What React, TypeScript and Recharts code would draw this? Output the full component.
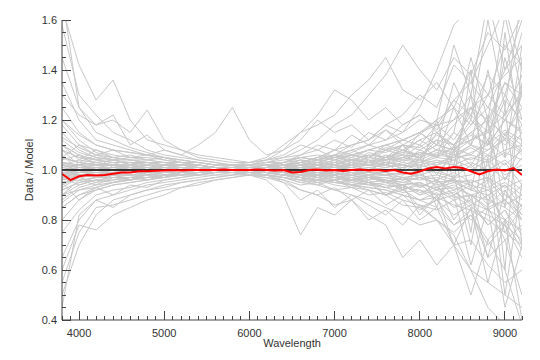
import { LineChart, Line, XAxis, YAxis, ReferenceLine } from 'recharts';

// wavelength grid of the mean ratio (every 100 A)
const redWave = [
  3800, 3900, 4000, 4100, 4200, 4300, 4400, 4500, 4600, 4700, 4800, 4900, 5000, 5100,
  5200, 5300, 5400, 5500, 5600, 5700, 5800, 5900, 6000, 6100, 6200, 6300, 6400, 6500,
  6600, 6700, 6800, 6900, 7000, 7100, 7200, 7300, 7400, 7500, 7600, 7700, 7800, 7900,
  8000, 8100, 8200, 8300, 8400, 8500, 8600, 8700, 8800, 8900, 9000, 9100, 9200,
];
const redRatio = [
  0.985, 0.96, 0.975, 0.98, 0.978, 0.98, 0.985, 0.99, 0.99, 0.995, 0.995, 0.997, 0.998, 1.0,
  0.998, 1.0, 1.0, 1.0, 1.0, 1.002, 1.0, 1.0, 1.0, 1.002, 1.0, 0.998, 1.0, 0.99,
  0.992, 1.0, 1.002, 0.998, 1.0, 0.996, 1.0, 1.002, 0.998, 1.0, 0.996, 1.0, 0.99, 0.985,
  0.994, 1.006, 1.012, 1.006, 1.012, 1.008, 0.995, 0.982, 0.995, 1.002, 0.998, 1.008, 0.98,
];

// individual spectra ratios (every 200 A)
const grayWave = [
  3800, 4000, 4200, 4400, 4600, 4800, 5000, 5200, 5400, 5600, 5800, 6000, 6200, 6400,
  6600, 6800, 7000, 7200, 7400, 7600, 7800, 8000, 8200, 8400, 8600, 8800, 9000, 9200,
];
const g01 = [1.05, 1.03, 1.02, 1.02, 1.01, 1.01, 1.01, 1.0, 1.0, 1.0, 1.0, 1.0, 1.0, 1.01, 1.01, 1.02, 1.01, 1.02, 1.02, 1.03, 1.02, 1.04, 1.03, 1.05, 1.06, 1.04, 1.08, 1.1];
const g02 = [0.92, 0.95, 0.97, 0.97, 0.98, 0.98, 0.99, 0.99, 1.0, 1.0, 1.0, 1.0, 0.99, 0.99, 0.98, 0.98, 0.99, 0.98, 0.97, 0.97, 0.96, 0.97, 0.95, 0.96, 0.94, 0.92, 0.95, 0.9];
const g03 = [1.1, 1.06, 1.04, 1.03, 1.03, 1.02, 1.02, 1.01, 1.01, 1.0, 1.0, 1.01, 1.01, 1.02, 1.03, 1.02, 1.03, 1.04, 1.03, 1.05, 1.06, 1.05, 1.08, 1.07, 1.12, 1.15, 1.1, 1.18];
const g04 = [0.88, 0.93, 0.95, 0.96, 0.97, 0.97, 0.98, 0.98, 0.99, 0.99, 1.0, 0.99, 0.99, 0.98, 0.97, 0.98, 0.97, 0.96, 0.97, 0.95, 0.94, 0.95, 0.92, 0.93, 0.9, 0.88, 0.85, 0.8];
const g05 = [1.0, 0.99, 1.01, 1.0, 1.01, 1.0, 1.0, 1.0, 1.0, 1.0, 1.0, 1.0, 1.0, 1.0, 1.0, 1.01, 1.0, 1.0, 1.01, 1.0, 1.01, 1.02, 1.0, 1.01, 1.03, 1.0, 1.04, 0.98];
const g06 = [1.15, 1.08, 1.05, 1.04, 1.03, 1.03, 1.02, 1.02, 1.01, 1.01, 1.0, 1.0, 1.01, 1.01, 1.01, 1.0, 1.02, 1.01, 1.02, 1.02, 1.04, 1.03, 1.02, 1.06, 1.04, 1.08, 1.12, 1.06];
const g07 = [0.85, 0.9, 0.93, 0.95, 0.96, 0.97, 0.97, 0.98, 0.99, 0.99, 0.99, 1.0, 1.0, 1.0, 0.99, 0.99, 0.98, 0.99, 0.98, 0.98, 0.97, 0.96, 0.97, 0.95, 0.96, 0.93, 0.97, 0.92];
const g08 = [1.03, 1.02, 1.0, 1.01, 1.0, 1.01, 1.0, 1.0, 1.0, 1.0, 1.0, 1.0, 1.0, 0.99, 1.0, 0.99, 0.99, 1.0, 0.99, 0.98, 0.99, 0.98, 1.0, 0.97, 0.98, 1.02, 0.96, 1.05];
const g09 = [0.95, 0.97, 0.98, 0.99, 0.99, 0.99, 1.0, 1.0, 1.0, 1.0, 1.0, 1.0, 1.0, 1.0, 1.01, 1.01, 1.02, 1.02, 1.03, 1.04, 1.05, 1.07, 1.06, 1.09, 1.12, 1.16, 1.22, 1.3];
const g10 = [1.2, 1.12, 1.07, 1.05, 1.04, 1.04, 1.03, 1.02, 1.02, 1.01, 1.01, 1.01, 1.01, 1.01, 1.02, 1.02, 1.01, 1.03, 1.02, 1.03, 1.02, 1.01, 1.03, 1.02, 1.0, 1.04, 0.98, 1.02];
const g11 = [0.8, 0.88, 0.92, 0.94, 0.95, 0.96, 0.97, 0.98, 0.98, 0.99, 0.99, 0.99, 0.99, 0.99, 0.98, 0.97, 0.96, 0.97, 0.95, 0.94, 0.93, 0.92, 0.9, 0.91, 0.87, 0.84, 0.8, 0.76];
const g12 = [1.08, 1.05, 1.03, 1.02, 1.01, 1.02, 1.01, 1.01, 1.0, 1.0, 1.0, 1.0, 0.99, 0.99, 0.99, 0.98, 0.99, 0.98, 0.99, 0.99, 0.98, 1.0, 0.99, 0.97, 1.02, 0.96, 1.03, 0.94];
const g13 = [0.97, 0.99, 1.0, 1.0, 1.0, 1.0, 1.0, 1.0, 1.0, 1.0, 1.0, 1.0, 1.0, 1.01, 1.01, 1.0, 1.0, 1.01, 1.0, 1.01, 1.02, 1.0, 1.02, 1.04, 1.01, 1.06, 1.02, 1.08];
const g14 = [1.12, 1.07, 1.05, 1.04, 1.04, 1.03, 1.02, 1.02, 1.01, 1.01, 1.01, 1.0, 1.0, 1.0, 1.0, 1.01, 1.01, 1.0, 1.01, 1.02, 1.01, 1.03, 1.05, 1.04, 1.07, 1.1, 1.16, 1.12];
const g15 = [0.9, 0.94, 0.96, 0.96, 0.97, 0.98, 0.98, 0.99, 0.99, 0.99, 1.0, 1.0, 1.0, 1.0, 1.0, 0.99, 1.0, 0.99, 0.99, 0.98, 0.99, 0.97, 0.98, 0.96, 0.95, 0.97, 0.9, 0.86];
const g16 = [1.25, 1.15, 1.1, 1.08, 1.07, 1.06, 1.05, 1.04, 1.03, 1.02, 1.02, 1.02, 1.03, 1.04, 1.05, 1.04, 1.06, 1.05, 1.08, 1.07, 1.1, 1.08, 1.12, 1.1, 1.15, 1.2, 1.14, 1.25];
const g17 = [0.75, 0.84, 0.9, 0.92, 0.93, 0.95, 0.96, 0.97, 0.98, 0.98, 0.99, 0.98, 0.98, 0.97, 0.95, 0.96, 0.95, 0.94, 0.93, 0.92, 0.9, 0.88, 0.89, 0.86, 0.84, 0.8, 0.75, 0.7];
const g18 = [1.05, 1.1, 1.06, 1.08, 1.05, 1.04, 1.05, 1.03, 1.02, 1.01, 1.01, 1.0, 1.01, 1.0, 1.02, 1.03, 1.02, 1.04, 1.03, 1.06, 1.04, 1.07, 1.05, 1.09, 1.06, 1.12, 1.05, 1.15];
const g19 = [0.95, 0.88, 0.93, 0.9, 0.94, 0.93, 0.96, 0.97, 0.98, 0.99, 0.99, 0.99, 1.0, 0.99, 0.97, 0.98, 0.96, 0.97, 0.95, 0.96, 0.94, 0.95, 0.92, 0.94, 0.9, 0.92, 0.86, 0.9];
const g20 = [1.35, 1.2, 1.12, 1.1, 1.08, 1.06, 1.05, 1.04, 1.03, 1.02, 1.01, 1.01, 1.02, 1.02, 1.03, 1.05, 1.04, 1.06, 1.08, 1.1, 1.12, 1.15, 1.18, 1.2, 1.25, 1.3, 1.38, 1.45];
const g21 = [0.65, 0.8, 0.88, 0.9, 0.92, 0.94, 0.95, 0.96, 0.97, 0.98, 0.98, 0.99, 0.98, 0.98, 0.97, 0.96, 0.97, 0.95, 0.94, 0.93, 0.91, 0.92, 0.88, 0.9, 0.85, 0.82, 0.78, 0.72];
const g22 = [1.1, 1.04, 1.08, 1.05, 1.06, 1.04, 1.03, 1.03, 1.02, 1.01, 1.0, 1.0, 0.99, 0.98, 0.97, 0.99, 0.98, 0.96, 0.97, 0.95, 0.97, 0.93, 0.96, 0.92, 0.95, 0.88, 0.94, 0.85];
const g23 = [0.9, 0.96, 0.94, 0.97, 0.96, 0.98, 0.97, 0.99, 0.99, 1.0, 1.0, 1.01, 1.01, 1.02, 1.04, 1.03, 1.05, 1.04, 1.06, 1.05, 1.08, 1.06, 1.1, 1.08, 1.14, 1.1, 1.2, 1.16];
const g24 = [1.65, 1.42, 1.28, 1.36, 1.2, 1.12, 1.1, 1.08, 1.06, 1.05, 1.04, 1.03, 1.04, 1.05, 1.06, 1.08, 1.05, 1.07, 1.1, 1.08, 1.12, 1.15, 1.1, 1.18, 1.25, 1.2, 1.35, 1.3];
const g25 = [1.3, 1.22, 1.18, 1.2, 1.15, 1.24, 1.12, 1.08, 1.05, 1.04, 1.03, 1.03, 1.04, 1.06, 1.1, 1.08, 1.12, 1.09, 1.15, 1.12, 1.18, 1.22, 1.16, 1.28, 1.35, 1.25, 1.4, 1.5];
const g26 = [1.2, 1.14, 1.1, 1.08, 1.07, 1.06, 1.08, 1.06, 1.1, 1.15, 1.25, 1.12, 1.06, 1.08, 1.12, 1.2, 1.15, 1.18, 1.12, 1.16, 1.1, 1.14, 1.2, 1.25, 1.18, 1.3, 1.22, 1.38];
const g27 = [1.1, 1.06, 1.04, 1.05, 1.04, 1.03, 1.03, 1.02, 1.02, 1.01, 1.01, 1.02, 1.03, 1.05, 1.08, 1.12, 1.18, 1.22, 1.3, 1.38, 1.5, 1.4, 1.32, 1.45, 1.38, 1.55, 1.48, 1.62];
const g28 = [1.05, 1.03, 1.06, 1.04, 1.05, 1.06, 1.04, 1.03, 1.03, 1.02, 1.02, 1.03, 1.05, 1.1, 1.15, 1.18, 1.22, 1.3, 1.36, 1.45, 1.32, 1.28, 1.35, 1.25, 1.4, 1.3, 1.5, 1.42];
const g29 = [0.98, 1.0, 1.01, 1.02, 1.02, 1.03, 1.02, 1.02, 1.02, 1.01, 1.01, 1.02, 1.02, 1.03, 1.05, 1.04, 1.08, 1.1, 1.12, 1.18, 1.15, 1.25, 1.4, 1.58, 1.65, 1.6, 1.7, 1.65];
const g30 = [0.9, 0.92, 0.93, 0.95, 0.96, 0.97, 0.98, 0.99, 0.98, 0.99, 0.99, 0.98, 0.96, 0.9, 0.74, 0.85, 0.82, 0.88, 0.8, 0.84, 0.78, 0.86, 0.8, 0.75, 0.82, 0.7, 0.78, 0.65];
const g31 = [0.85, 0.9, 0.92, 0.94, 0.95, 0.96, 0.97, 0.98, 0.98, 0.99, 0.99, 0.98, 0.97, 0.95, 0.92, 0.9, 0.86, 0.88, 0.82, 0.78, 0.65, 0.72, 0.62, 0.7, 0.6, 0.55, 0.5, 0.45];
const g32 = [0.92, 0.95, 0.96, 0.97, 0.97, 0.98, 0.98, 0.99, 0.99, 1.0, 1.0, 0.99, 0.99, 0.98, 0.97, 0.96, 0.94, 0.93, 0.92, 0.9, 0.86, 0.85, 0.8, 0.74, 0.6, 0.45, 0.38, 0.35];
const g33 = [0.6, 0.78, 0.76, 0.82, 0.85, 0.88, 0.9, 0.93, 0.94, 0.96, 0.97, 0.98, 0.97, 0.96, 0.94, 0.95, 0.92, 0.93, 0.9, 0.91, 0.88, 0.86, 0.84, 0.88, 0.8, 0.85, 0.72, 0.78];
const g34 = [0.45, 0.82, 0.88, 0.85, 0.9, 0.92, 0.93, 0.95, 0.96, 0.97, 0.98, 0.99, 0.99, 0.98, 0.96, 0.94, 0.96, 0.93, 0.95, 0.9, 0.92, 0.88, 0.91, 0.85, 0.88, 0.78, 0.84, 0.7];
const g35 = [1.02, 1.01, 1.0, 1.01, 1.01, 1.0, 1.01, 1.01, 1.0, 1.0, 1.0, 1.01, 1.02, 1.03, 1.05, 1.06, 1.05, 1.08, 1.1, 1.12, 1.15, 1.2, 1.18, 1.28, 1.22, 1.38, 1.3, 1.55];
const g36 = [0.98, 0.99, 0.99, 0.99, 0.99, 0.99, 1.0, 1.0, 1.0, 1.0, 1.0, 0.99, 0.99, 0.98, 0.97, 0.95, 0.96, 0.94, 0.92, 0.9, 0.93, 0.85, 0.88, 0.78, 0.84, 0.65, 0.72, 0.5];
const g37 = [1.0, 1.02, 1.03, 1.02, 1.02, 1.01, 1.02, 1.01, 1.01, 1.0, 1.0, 1.0, 1.01, 1.0, 0.99, 1.01, 0.99, 1.02, 1.0, 1.03, 0.98, 1.05, 0.95, 1.1, 0.92, 1.2, 0.85, 1.35];
const g38 = [1.06, 1.0, 0.97, 0.98, 0.98, 0.99, 0.99, 0.99, 1.0, 1.0, 1.0, 1.0, 1.01, 1.02, 1.04, 1.02, 1.06, 1.03, 1.07, 1.05, 1.1, 1.04, 1.15, 1.08, 1.25, 1.1, 1.45, 1.2];
const g39 = [0.94, 0.97, 0.98, 0.98, 0.98, 0.99, 0.99, 0.99, 0.99, 1.0, 1.0, 1.0, 1.0, 0.99, 0.99, 1.0, 0.98, 0.99, 0.97, 0.98, 0.96, 0.99, 0.93, 0.97, 0.88, 0.95, 0.75, 0.85];
const g40 = [1.18, 1.1, 1.08, 1.06, 1.05, 1.05, 1.04, 1.03, 1.02, 1.01, 1.01, 1.01, 1.02, 1.01, 1.03, 1.05, 1.08, 1.06, 1.05, 1.1, 1.08, 1.12, 1.15, 1.1, 1.2, 1.12, 1.28, 1.2];
const g41 = [1.08, 1.05, 1.04, 1.03, 1.03, 1.02, 1.02, 1.02, 1.01, 1.01, 1.01, 1.02, 1.04, 1.08, 1.15, 1.22, 1.32, 1.28, 1.2, 1.25, 1.18, 1.22, 1.15, 1.2, 1.3, 1.18, 1.35, 1.25];
const g42 = [0.96, 0.98, 0.98, 0.99, 0.99, 0.99, 0.99, 0.99, 1.0, 1.0, 1.0, 0.99, 0.98, 0.95, 0.88, 0.92, 0.85, 0.9, 0.86, 0.82, 0.88, 0.8, 0.85, 0.78, 0.82, 0.72, 0.8, 0.68];
const g43 = [1.08, 1.02, 1.05, 1.01, 1.03, 1.0, 1.02, 1.0, 1.01, 1.0, 1.0, 1.01, 1.0, 1.01, 0.99, 1.02, 1.0, 1.03, 0.99, 1.04, 1.0, 1.06, 0.98, 1.08, 1.02, 1.12, 0.96, 1.1];
const g44 = [0.93, 0.97, 0.95, 0.98, 0.96, 0.99, 0.97, 0.99, 0.98, 1.0, 0.99, 1.0, 0.99, 0.98, 1.0, 0.97, 0.99, 0.96, 0.98, 0.95, 0.97, 0.93, 0.96, 0.9, 0.94, 0.86, 0.92, 0.82];
const g45 = [1.02, 1.04, 1.03, 1.04, 1.02, 1.03, 1.02, 1.02, 1.01, 1.01, 1.0, 1.0, 1.0, 1.01, 1.02, 1.01, 1.03, 1.02, 1.04, 1.03, 1.05, 1.04, 1.07, 1.05, 1.1, 1.06, 1.14, 1.08];
const g46 = [0.97, 0.94, 0.96, 0.95, 0.97, 0.96, 0.98, 0.98, 0.99, 0.99, 1.0, 1.0, 1.0, 0.99, 0.98, 0.99, 0.97, 0.98, 0.96, 0.97, 0.95, 0.97, 0.94, 0.96, 0.92, 0.96, 0.88, 0.94];
const g47 = [1.04, 1.06, 1.02, 1.03, 1.01, 1.02, 1.01, 1.01, 1.0, 1.0, 1.0, 1.0, 1.01, 1.01, 1.0, 1.02, 1.01, 1.01, 1.02, 1.01, 1.03, 1.02, 1.04, 1.02, 1.05, 1.03, 1.07, 1.04];
const g48 = [0.96, 0.98, 0.99, 0.98, 0.99, 0.99, 0.99, 1.0, 1.0, 1.0, 1.0, 1.0, 0.99, 1.0, 0.99, 0.99, 0.98, 1.0, 0.98, 0.99, 0.97, 0.98, 0.96, 0.99, 0.95, 0.97, 0.93, 0.96];
const g49 = [1.13, 1.09, 1.06, 1.05, 1.04, 1.03, 1.03, 1.02, 1.02, 1.01, 1.01, 1.01, 1.01, 1.02, 1.02, 1.03, 1.02, 1.04, 1.03, 1.04, 1.05, 1.03, 1.06, 1.05, 1.09, 1.05, 1.13, 1.07];
const g50 = [0.87, 0.92, 0.94, 0.95, 0.96, 0.97, 0.98, 0.98, 0.99, 0.99, 0.99, 0.99, 0.99, 0.98, 0.98, 0.97, 0.98, 0.96, 0.97, 0.96, 0.95, 0.94, 0.93, 0.95, 0.92, 0.9, 0.94, 0.88];
const g51 = [1.58, 1.3, 1.22, 1.15, 1.12, 1.08, 1.06, 1.05, 1.04, 1.03, 1.02, 1.02, 1.02, 1.03, 1.04, 1.03, 1.05, 1.04, 1.06, 1.05, 1.07, 1.06, 1.1, 1.08, 1.15, 1.1, 1.2, 1.15];
const g52 = [0.55, 0.75, 0.85, 0.86, 0.88, 0.9, 0.92, 0.93, 0.95, 0.96, 0.97, 0.98, 0.98, 0.97, 0.96, 0.97, 0.95, 0.96, 0.94, 0.95, 0.92, 0.94, 0.9, 0.92, 0.86, 0.9, 0.8, 0.86];
const g53 = [1.45, 1.25, 1.18, 1.22, 1.1, 1.14, 1.08, 1.06, 1.04, 1.03, 1.02, 1.02, 1.03, 1.03, 1.05, 1.04, 1.06, 1.08, 1.05, 1.09, 1.07, 1.12, 1.08, 1.15, 1.1, 1.22, 1.12, 1.3];
const g54 = [1.0, 1.0, 1.0, 1.0, 1.0, 1.0, 1.0, 1.0, 1.0, 1.0, 1.0, 1.0, 1.0, 1.0, 1.01, 1.02, 1.03, 1.02, 1.05, 1.04, 1.08, 1.05, 1.12, 1.02, 1.3, 0.95, 1.55, 1.1];
const g55 = [1.0, 0.99, 1.0, 0.99, 1.0, 1.0, 1.0, 1.0, 1.0, 1.0, 1.0, 1.0, 1.0, 0.99, 0.99, 0.98, 0.97, 0.98, 0.95, 0.96, 0.92, 0.95, 0.88, 0.98, 0.7, 1.05, 0.5, 0.95];
const g56 = [1.01, 1.02, 1.01, 1.01, 1.01, 1.01, 1.0, 1.01, 1.0, 1.0, 1.0, 1.0, 1.01, 1.02, 1.01, 1.03, 1.02, 1.05, 1.03, 1.08, 1.06, 1.15, 1.1, 1.35, 1.2, 1.6, 1.25, 1.7];
const g57 = [0.99, 0.98, 0.99, 0.99, 0.99, 1.0, 1.0, 1.0, 1.0, 1.0, 1.0, 1.0, 0.99, 0.98, 0.99, 0.97, 0.98, 0.94, 0.96, 0.9, 0.94, 0.82, 0.9, 0.7, 0.85, 0.55, 0.8, 0.4];
const g58 = [1.02, 1.0, 1.01, 1.0, 1.01, 1.0, 1.01, 1.0, 1.0, 1.0, 1.0, 1.0, 1.0, 1.01, 1.02, 1.04, 1.03, 1.06, 1.04, 1.02, 1.1, 1.0, 1.2, 0.95, 1.4, 0.85, 1.25, 0.7];
const g59 = [0.97, 0.99, 0.99, 0.99, 0.99, 0.99, 1.0, 1.0, 1.0, 1.0, 1.0, 1.0, 1.0, 0.99, 0.98, 0.96, 0.98, 0.95, 0.97, 1.0, 0.92, 1.02, 0.85, 1.08, 0.75, 1.2, 0.6, 1.45];
const g60 = [1.05, 1.03, 1.02, 1.02, 1.02, 1.01, 1.01, 1.01, 1.01, 1.0, 1.0, 1.01, 1.01, 1.02, 1.03, 1.05, 1.06, 1.1, 1.12, 1.18, 1.22, 1.3, 1.25, 1.42, 1.35, 1.5, 1.65, 1.4];
const g61 = [0.95, 0.96, 0.97, 0.98, 0.98, 0.98, 0.99, 0.99, 0.99, 1.0, 1.0, 0.99, 0.98, 0.97, 0.95, 0.94, 0.92, 0.9, 0.88, 0.85, 0.82, 0.78, 0.8, 0.7, 0.72, 0.62, 0.55, 0.6];
const g62 = [1.0, 1.01, 1.01, 1.01, 1.01, 1.0, 1.01, 1.0, 1.0, 1.0, 1.0, 1.0, 1.01, 1.03, 1.06, 1.1, 1.08, 1.14, 1.1, 1.16, 1.12, 1.1, 1.18, 1.12, 1.22, 1.15, 1.3, 1.18];
const g63 = [1.0, 0.99, 0.99, 0.99, 0.99, 0.99, 0.99, 1.0, 1.0, 1.0, 1.0, 0.99, 0.98, 0.96, 0.92, 0.9, 0.93, 0.88, 0.92, 0.86, 0.9, 0.84, 0.88, 0.82, 0.86, 0.78, 0.84, 0.74];
const g64 = [1.03, 1.01, 1.02, 1.02, 1.01, 1.02, 1.01, 1.01, 1.01, 1.0, 1.0, 1.0, 1.0, 1.01, 1.03, 1.02, 1.04, 1.06, 1.05, 1.08, 1.1, 1.09, 1.14, 1.1, 1.18, 1.25, 1.2, 1.32];
const g65 = [0.98, 0.98, 0.97, 0.98, 0.98, 0.98, 0.99, 0.99, 0.99, 1.0, 1.0, 1.0, 1.0, 1.0, 0.99, 0.98, 0.97, 0.96, 0.95, 0.93, 0.94, 0.9, 0.92, 0.88, 0.9, 0.84, 0.88, 0.8];
const g66 = [1.02, 1.01, 1.01, 1.0, 1.01, 1.0, 1.0, 1.0, 1.0, 1.0, 1.0, 1.0, 1.0, 1.01, 1.0, 1.02, 1.01, 1.03, 1.02, 1.05, 1.03, 1.08, 1.05, 1.15, 1.45, 1.2, 1.62, 1.3];
const g67 = [0.99, 0.99, 0.99, 1.0, 0.99, 1.0, 1.0, 1.0, 1.0, 1.0, 1.0, 1.0, 1.0, 0.99, 1.0, 0.98, 0.99, 0.97, 0.98, 0.95, 0.97, 0.93, 0.96, 0.9, 0.62, 0.85, 0.45, 0.7];
const g68 = [1.03, 1.02, 1.02, 1.02, 1.01, 1.01, 1.01, 1.01, 1.01, 1.0, 1.0, 1.0, 1.01, 1.02, 1.03, 1.04, 1.05, 1.06, 1.08, 1.1, 1.12, 1.15, 1.2, 1.5, 1.3, 1.68, 1.4, 1.6];
const g69 = [0.97, 0.98, 0.98, 0.98, 0.99, 0.99, 0.99, 0.99, 1.0, 1.0, 1.0, 1.0, 0.99, 0.98, 0.97, 0.96, 0.95, 0.94, 0.93, 0.92, 0.9, 0.88, 0.85, 0.7, 0.5, 0.72, 0.6, 0.38];
const g70 = [1.01, 1.0, 1.01, 1.01, 1.0, 1.01, 1.0, 1.0, 1.0, 1.0, 1.0, 1.0, 1.0, 1.0, 1.01, 1.0, 1.02, 1.01, 1.03, 1.02, 1.05, 1.1, 1.05, 1.25, 1.1, 1.4, 1.05, 1.5];
const g71 = [0.99, 1.0, 0.99, 0.99, 1.0, 0.99, 1.0, 1.0, 1.0, 1.0, 1.0, 1.0, 1.0, 1.0, 0.99, 1.0, 0.98, 0.99, 0.97, 0.96, 0.94, 0.9, 0.95, 0.8, 0.9, 0.65, 0.92, 0.8];
const g72 = [1.7, 1.25, 1.15, 1.12, 1.09, 1.07, 1.05, 1.04, 1.03, 1.02, 1.02, 1.01, 1.02, 1.02, 1.03, 1.02, 1.04, 1.03, 1.05, 1.04, 1.06, 1.05, 1.08, 1.06, 1.1, 1.08, 1.15, 1.1];
const g73 = [0.5, 0.7, 0.82, 0.88, 0.9, 0.92, 0.94, 0.95, 0.96, 0.97, 0.98, 0.98, 0.98, 0.97, 0.96, 0.95, 0.96, 0.94, 0.95, 0.93, 0.94, 0.91, 0.93, 0.89, 0.9, 0.85, 0.88, 0.82];

const grayRuns = [
  g01, g02, g03, g04, g05, g06, g07, g08, g09, g10, g11, g12, g13, g14, g15, g16,
  g17, g18, g19, g20, g21, g22, g23, g24, g25, g26, g27, g28, g29, g30, g31, g32,
  g33, g34, g35, g36, g37, g38, g39, g40, g41, g42, g43, g44, g45, g46, g47, g48,
  g49, g50, g51, g52, g53, g54, g55, g56, g57, g58, g59, g60, g61, g62, g63, g64,
  g65, g66, g67, g68, g69, g70, g71, g72, g73,
];

const xMajor = [4000, 5000, 6000, 7000, 8000, 9000];
const yMajor = [0.4, 0.6, 0.8, 1.0, 1.2, 1.4, 1.6];
const yTicks = Array.from({ length: 25 }, (_, i) => Math.round((0.4 + i * 0.05) * 100) / 100);

const data = redWave.map((w, i) => {
  const row: Record<string, number | null> = { w, red: redRatio[i] };
  const k = grayWave.indexOf(w);
  grayRuns.forEach((run, j) => {
    row['g' + j] = k >= 0 ? run[k] : null;
  });
  return row;
});

const AXIS = '#444';
const FONT = { fontFamily: '"Liberation Sans", Arial, sans-serif', fontSize: 11, fill: '#333' };

const isMajorX = (v: number) => xMajor.includes(v);
const isMajorY = (v: number) => yMajor.some((m) => Math.abs(m - v) < 1e-6);

const BottomTick = ({ x, y, payload }: any) => {
  const major = isMajorX(payload.value);
  return (
    <g>
      <path d={`M${x},${y}V${y - (major ? 9 : 4)}`} stroke={AXIS} strokeWidth={1} shapeRendering="crispEdges" />
      {major && (
        <text x={x} y={y + 17} textAnchor="middle" {...FONT}>
          {payload.value}
        </text>
      )}
    </g>
  );
};

const TopTick = ({ x, y, payload }: any) => {
  const major = isMajorX(payload.value);
  return <path d={`M${x},${y}V${y + (major ? 9 : 4)}`} stroke={AXIS} strokeWidth={1} shapeRendering="crispEdges" />;
};

const LeftTick = ({ x, y, payload }: any) => {
  const major = isMajorY(payload.value);
  return (
    <g>
      <path d={`M${x},${y}H${x + (major ? 9 : 4)}`} stroke={AXIS} strokeWidth={1} shapeRendering="crispEdges" />
      {major && (
        <text x={x - 5} y={y + 4} textAnchor="end" {...FONT}>
          {payload.value.toFixed(1)}
        </text>
      )}
    </g>
  );
};

const RightTick = ({ x, y, payload }: any) => {
  const major = isMajorY(payload.value);
  return <path d={`M${x},${y}H${x - (major ? 9 : 4)}`} stroke={AXIS} strokeWidth={1} shapeRendering="crispEdges" />;
};

export default function App() {
  return (
    <div style={{ position: 'absolute', left: 0, top: 0, background: '#fff' }}>
      <LineChart width={540} height={360} data={data} margin={{ top: 20, right: 18, bottom: 0, left: 0 }}>
        {grayRuns.map((_, j) => (
          <Line
            key={j}
            dataKey={'g' + j}
            stroke="#c8c8c8"
            strokeWidth={1}
            dot={false}
            activeDot={false}
            connectNulls
            isAnimationActive={false}
          />
        ))}
        <ReferenceLine y={1} stroke="#000" strokeWidth={1.5} />
        <Line
          dataKey="red"
          stroke="#ff0000"
          strokeWidth={2}
          dot={false}
          activeDot={false}
          isAnimationActive={false}
        />
        <XAxis
          dataKey="w"
          type="number"
          domain={[3800, 9200]}
          allowDataOverflow
          ticks={redWave}
          interval={0}
          height={40}
          tickSize={0}
          tickMargin={0}
          tick={<BottomTick />}
          axisLine={{ stroke: AXIS }}
          label={{ value: 'Wavelength', position: 'insideBottom', offset: 13, style: FONT }}
        />
        <XAxis
          xAxisId="top"
          orientation="top"
          type="number"
          domain={[3800, 9200]}
          allowDataOverflow
          ticks={redWave}
          interval={0}
          height={0}
          tickSize={0}
          tickMargin={0}
          tick={<TopTick />}
          axisLine={{ stroke: AXIS }}
        />
        <YAxis
          type="number"
          domain={[0.4, 1.6]}
          allowDataOverflow
          ticks={yTicks}
          interval={0}
          width={62}
          tickSize={0}
          tickMargin={0}
          tick={<LeftTick />}
          axisLine={{ stroke: AXIS }}
          label={{ value: 'Data / Model', angle: -90, position: 'center', dx: -2, style: FONT }}
        />
        <YAxis
          yAxisId="right"
          orientation="right"
          type="number"
          domain={[0.4, 1.6]}
          allowDataOverflow
          ticks={yTicks}
          interval={0}
          width={0}
          tickSize={0}
          tickMargin={0}
          tick={<RightTick />}
          axisLine={{ stroke: AXIS }}
        />
      </LineChart>
    </div>
  );
}
